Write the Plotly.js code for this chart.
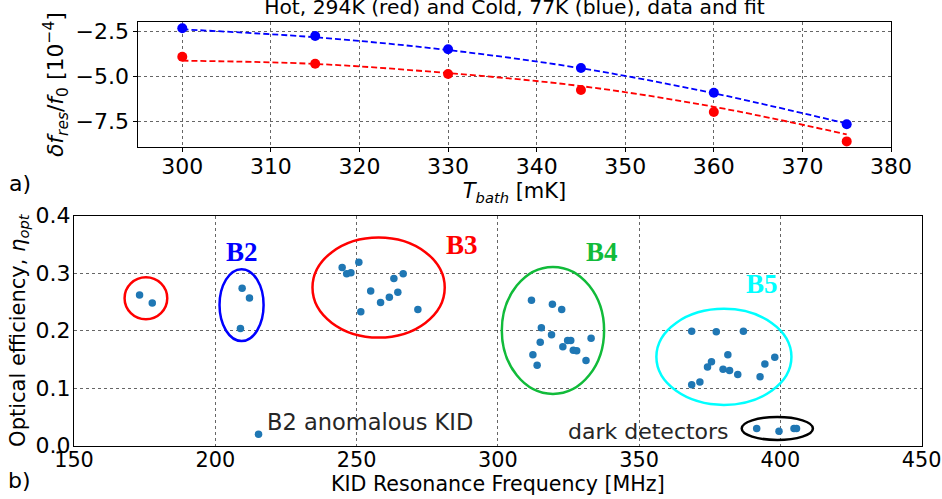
<!DOCTYPE html>
<html>
<head>
<meta charset="utf-8">
<script src="https://cdn.plot.ly/plotly-3.0.1.min.js"></script>
<style>html,body{margin:0;padding:0;background:#fff}</style>
</head>
<body>
<div id="chart" style="width:942px;height:499px"></div>
<script>
// ---- Panel a) data ----
const tBath = [300, 315, 330, 345, 360, 375];
const coldData = [-2.31, -2.74, -3.48, -4.52, -5.89, -7.64];
const hotData = [-3.89, -4.28, -4.85, -5.74, -6.96, -8.59];
const coldFit = [-2.37, -2.81, -3.52, -4.53, -5.92, -7.60];
const hotFit = [-4.11, -4.29, -4.80, -5.52, -6.67, -8.20];

// ---- Panel b) data ----
const kidFreq = [173.2, 177.7,
  209.5, 212.1, 208.9,
  215.3,
  244.9, 246.5, 248.0, 250.8, 255.0, 251.5, 258.5, 261.6, 263.2, 264.6, 266.5, 271.7,
  311.9, 319.3, 322.6, 315.4, 319.0, 315.0, 323.0, 324.7, 325.8, 326.7, 327.9, 333.0, 312.4, 313.9, 331.2,
  368.6, 377.3, 386.9, 381.4, 375.6, 374.2, 379.7, 382.0, 384.9, 392.8, 394.5, 398.0, 368.6, 371.5,
  391.6, 399.5, 404.8, 405.7];
const optEff = [0.262, 0.248,
  0.274, 0.257, 0.204,
  0.020,
  0.310, 0.299, 0.301, 0.319, 0.269, 0.233, 0.249, 0.258, 0.291, 0.267, 0.299, 0.237,
  0.253, 0.246, 0.237, 0.205, 0.193, 0.180, 0.172, 0.183, 0.183, 0.166, 0.165, 0.187, 0.158, 0.140, 0.148,
  0.199, 0.198, 0.199, 0.158, 0.146, 0.137, 0.133, 0.131, 0.124, 0.120, 0.142, 0.154, 0.106, 0.111,
  0.030, 0.025, 0.030, 0.030];

// group ellipses: [x0, x1, y0, y1]
const groupNames = ["B1", "B2", "B3", "B4", "B5", "dark"];
const groupBoxes = [
  [167.9, 183.0, 0.220, 0.293],
  [201.5, 217.1, 0.182, 0.307],
  [234.4, 281.2, 0.188, 0.362],
  [301.4, 337.6, 0.090, 0.311],
  [356.1, 403.9, 0.071, 0.238],
  [386.3, 411.5, 0.010, 0.050]
];
const groupColors = ["#ff0000", "#0000ff", "#ff0000", "#11bb3a", "#00ffff", "#000000"];
const bandLabels = ["B2", "B3", "B4", "B5"];
const bandLabelX = [209.5, 287.2, 337.0, 393.6];
const bandLabelY = [0.337, 0.349, 0.337, 0.282];
const bandLabelColors = ["#0000ff", "#ff0000", "#11bb3a", "#00ffff"];

const FONT = "DejaVu Sans, sans-serif";

const traces = [
  {x: tBath, y: coldFit, mode: "lines", line: {color: "#0000ff", dash: "6px,3px", width: 1.8, shape: "spline"}, xaxis: "x", yaxis: "y", hoverinfo: "skip"},
  {x: tBath, y: hotFit, mode: "lines", line: {color: "#ff0000", dash: "6px,3px", width: 1.8, shape: "spline"}, xaxis: "x", yaxis: "y", hoverinfo: "skip"},
  {x: tBath, y: coldData, mode: "markers", marker: {color: "#0000ff", size: 10}, xaxis: "x", yaxis: "y"},
  {x: tBath, y: hotData, mode: "markers", marker: {color: "#ff0000", size: 10}, xaxis: "x", yaxis: "y"},
  {x: kidFreq, y: optEff, mode: "markers", marker: {color: "#1f77b4", size: 7.5}, xaxis: "x2", yaxis: "y2"}
];

const shapes = groupBoxes.map((b, i) => ({
  type: "circle", xref: "x2", yref: "y2",
  x0: b[0], x1: b[1], y0: b[2], y1: b[3],
  line: {color: groupColors[i], width: 2.5}
}));

const annotations = bandLabels.map((t, i) => ({
  text: "<b>" + t + "</b>", x: bandLabelX[i], y: bandLabelY[i], xref: "x2", yref: "y2",
  showarrow: false, font: {family: "Liberation Serif, serif", size: 27, color: bandLabelColors[i]}
}));
annotations.push(
  {text: "B2 anomalous KID", x: 217.6, y: 0.041, xref: "x2", yref: "y2", xanchor: "left", showarrow: false,
   font: {family: FONT, size: 22.5, color: "#262626"}},
  {text: "dark detectors", x: 382.6, y: 0.025, xref: "x2", yref: "y2", xanchor: "right", showarrow: false,
   font: {family: FONT, size: 22, color: "#262626"}},
  {text: "a)", x: 20 / 942, y: 1 - 183 / 499, xref: "paper", yref: "paper", xanchor: "center", yanchor: "middle",
   showarrow: false, font: {family: FONT, size: 22, color: "#000"}},
  {text: "b)", x: 19 / 942, y: 1 - 480 / 499, xref: "paper", yref: "paper", xanchor: "center", yanchor: "middle",
   showarrow: false, font: {family: FONT, size: 22, color: "#000"}}
);

const gridCommon = {showgrid: true, gridcolor: "#666", gridwidth: 1, griddash: "dot",
  showline: true, linecolor: "#000", linewidth: 1.2, mirror: true, zeroline: false,
  tickfont: {family: FONT, size: 22, color: "#000"}};

const layout = {
  width: 942, height: 499,
  margin: {l: 0, r: 0, t: 0, b: 0},
  paper_bgcolor: "#fff", plot_bgcolor: "#fff",
  showlegend: false,
  font: {family: FONT, color: "#000"},
  title: {text: "Hot, 294K (red) and Cold, 77K (blue), data and fit", x: 514.5 / 942, xanchor: "center",
    y: 1, yanchor: "top", pad: {t: 0}, font: {family: FONT, size: 20.3, color: "#000"}},
  xaxis: Object.assign({}, gridCommon, {domain: [138 / 942, 891 / 942], range: [295, 380], dtick: 10,
    ticks: "outside", ticklen: 3.5, tickcolor: "#000", anchor: "y", ticklabelstandoff: -4,
    title: {text: "<i>T</i><sub><i>bath</i></sub> [mK]", font: {family: FONT, size: 21}, standoff: 0}}),
  yaxis: Object.assign({}, gridCommon, {domain: [1 - 147 / 499, 1 - 22.3 / 499], range: [-8.9, -1.98],
    tickvals: [-2.5, -5.0, -7.5], tickformat: ".1f", ticks: "outside", ticklen: 3.5, tickcolor: "#000", anchor: "x",
    title: {text: "<i>δf</i><sub><i>res</i></sub>/<i>f</i><sub>0</sub> [10<sup>−4</sup>]", font: {family: FONT, size: 22}, standoff: 5}}),
  xaxis2: Object.assign({}, gridCommon, {domain: [74 / 942, 921.7 / 942], range: [150, 450], dtick: 50,
    ticks: "", anchor: "y2", ticklabelstandoff: -5, tickfont: {family: FONT, size: 20.8, color: "#000"},
    title: {text: "KID Resonance Frequency [MHz]", font: {family: FONT, size: 20.6}, standoff: 0}}),
  yaxis2: Object.assign({}, gridCommon, {domain: [1 - 445.7 / 499, 1 - 215.7 / 499], range: [0, 0.4],
    dtick: 0.1, tickformat: ".1f", ticks: "", anchor: "x2", ticklabelstandoff: -2,
    title: {text: "Optical efficiency, <i>η</i><sub><i>opt</i></sub>", font: {family: FONT, size: 21}, standoff: 4}}),
  shapes: shapes,
  annotations: annotations
};

Plotly.newPlot("chart", traces, layout, {staticPlot: true, displayModeBar: false});
</script>
</body>
</html>
